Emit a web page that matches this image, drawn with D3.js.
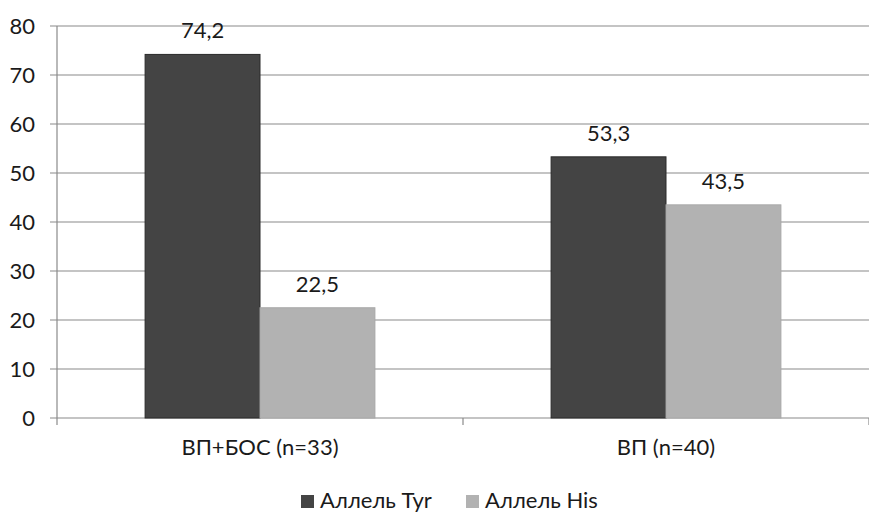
<!DOCTYPE html>
<html>
<head>
<meta charset="utf-8">
<script src="https://cdn.jsdelivr.net/npm/d3@7"></script>
<style>
  body { margin: 0; background: #fff; }
  svg { font-family: Lato, "Open Sans", sans-serif; }
</style>
</head>
<body>
<svg class="chart"></svg>
<script>
var categories = ["ВП+БОС (n=33)", "ВП (n=40)"];
var seriesNames = ["Аллель Tyr", "Аллель His"];
var tyrValues = [74.2, 53.3];
var hisValues = [22.5, 43.5];
var yTicks = [0, 10, 20, 30, 40, 50, 60, 70, 80];

function show() {
    'use strict';
    var width = 869, height = 514;
    var margin = {top: 26, bottom: 96, left: 57, right: 0};

    var svg = d3.select(".chart")
        .attr("width", width)
        .attr("height", height);

    var colors = ["#444444", "#b2b2b2"];
    var strokes = ["#2a2a2a", "#a8a8a8"];

    var x0 = d3.scaleBand()
        .domain(categories)
        .range([margin.left, width - margin.right])
        .paddingInner(0)
        .paddingOuter(0);

    // two bars take ~57% of each category, centred
    var x1 = d3.scaleBand()
        .domain(seriesNames)
        .range([0, x0.bandwidth() * 0.566]);

    var y = d3.scaleLinear()
        .domain([0, 80])
        .range([height - margin.bottom, margin.top]);

    var g = svg.append("g");

    // gridlines
    g.selectAll("line.grid").data(yTicks).enter()
        .append("line")
        .attr("x1", margin.left - 7)
        .attr("x2", width)
        .attr("y1", function (d) { return y(d); })
        .attr("y2", function (d) { return y(d); })
        .attr("stroke", "#8a8a8a")
        .attr("stroke-width", 1.2);

    // y axis line
    g.append("line")
        .attr("x1", margin.left).attr("x2", margin.left)
        .attr("y1", y(80)).attr("y2", y(0) + 7)
        .attr("stroke", "#8a8a8a").attr("stroke-width", 1.2);

    // category divider ticks
    g.selectAll("line.ctick").data([1, 2]).enter()
        .append("line")
        .attr("x1", function (d) { return x0.range()[0] + d * x0.bandwidth(); })
        .attr("x2", function (d) { return x0.range()[0] + d * x0.bandwidth(); })
        .attr("y1", y(0))
        .attr("y2", y(0) + 7)
        .attr("stroke", "#8a8a8a").attr("stroke-width", 1.2);

    // y tick labels
    g.selectAll("text.ylab").data(yTicks).enter()
        .append("text")
        .attr("x", 35)
        .attr("y", function (d) { return y(d); })
        .attr("dy", "0.35em")
        .attr("text-anchor", "end")
        .attr("font-size", 22)
        .attr("fill", "#1a1a1a")
        .text(function (d) { return d; });

    var rows = categories.map(function (c, i) {
        return {cat: c, vals: [tyrValues[i], hisValues[i]]};
    });

    var groups = g.selectAll("g.cat").data(rows).enter()
        .append("g")
        .attr("transform", function (d) {
            return "translate(" + (x0(d.cat) + x0.bandwidth() * 0.217) + ",0)";
        });

    groups.selectAll("rect").data(function (d) {
        return d.vals.map(function (v, j) { return {name: seriesNames[j], v: v, j: j}; });
    }).enter()
        .append("rect")
        .attr("x", function (d) { return x1(d.name); })
        .attr("y", function (d) { return y(d.v); })
        .attr("width", x1.bandwidth())
        .attr("height", function (d) { return y(0) - y(d.v); })
        .attr("fill", function (d) { return colors[d.j]; })
        .attr("stroke", function (d) { return strokes[d.j]; })
        .attr("stroke-width", 1);

    groups.selectAll("text").data(function (d) {
        return d.vals.map(function (v, j) { return {name: seriesNames[j], v: v}; });
    }).enter()
        .append("text")
        .attr("x", function (d) { return x1(d.name) + x1.bandwidth() / 2; })
        .attr("y", function (d) { return y(d.v) - 16; })
        .attr("text-anchor", "middle")
        .attr("font-size", 22)
        .attr("fill", "#1a1a1a")
        .text(function (d) { return String(d.v).replace(".", ","); });

    // category labels
    g.selectAll("text.xlab").data(categories).enter()
        .append("text")
        .attr("x", function (d) { return x0(d) + x0.bandwidth() / 2; })
        .attr("y", 455)
        .attr("text-anchor", "middle")
        .attr("font-size", 22)
        .attr("fill", "#1a1a1a")
        .text(function (d) { return d; });

    // legend
    var legendX = [301, 466];
    var legend = g.selectAll("g.leg").data(seriesNames).enter()
        .append("g")
        .attr("transform", function (d, i) { return "translate(" + legendX[i] + ",495)"; });
    legend.append("rect")
        .attr("width", 13).attr("height", 13)
        .attr("fill", function (d, i) { return colors[i]; });
    legend.append("text")
        .attr("x", 19).attr("y", 13)
        .attr("font-size", 22)
        .attr("fill", "#1a1a1a")
        .text(function (d) { return d; });
}
show();
</script>
</body>
</html>
